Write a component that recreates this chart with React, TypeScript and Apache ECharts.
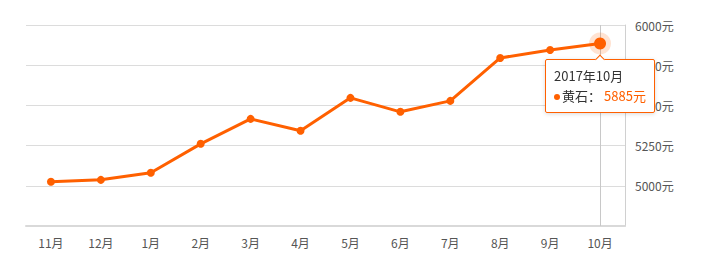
import React, { useEffect, useRef } from "react";
import * as echarts from "echarts";

const categories = ["11月", "12月", "1月", "2月", "3月", "4月", "5月", "6月", "7月", "8月", "9月", "10月"];
const periods = ["2016年11月", "2016年12月", "2017年1月", "2017年2月", "2017年3月", "2017年4月", "2017年5月", "2017年6月", "2017年7月", "2017年8月", "2017年9月", "2017年10月"];
const prices = [5025, 5037, 5081, 5261, 5416, 5342, 5547, 5460, 5528, 5795, 5845, 5885];
const seriesName = "黄石";
const unit = "元";

const ORANGE = "#ff6000";

export default function App() {
  const ref = useRef<HTMLDivElement>(null);
  useEffect(() => {
    document.body.style.margin = "0";
    const chart = echarts.init(ref.current!, null, { renderer: "svg" });
    const last = prices.length - 1;
    chart.setOption({
      animation: false,
      textStyle: { fontFamily: "'Noto Sans CJK SC', 'Noto Sans', sans-serif" },
      grid: { left: 26, right: 78, top: 25, bottom: 45 },
      tooltip: {
        trigger: "item",
        triggerOn: "none",
        alwaysShowContent: true,
        position: "bottom",
        backgroundColor: "#fff",
        borderColor: ORANGE,
        borderWidth: 1,
        padding: [6, 8],
        extraCssText: "box-shadow: 0 1px 4px rgba(0,0,0,0.15); border-radius:2px;",
        formatter: (p: any) =>
          `<div style="font-size:13px;color:#333;line-height:20px;font-family:'Noto Sans CJK SC',sans-serif">` +
          `${periods[p.dataIndex]}<br/>` +
          `<span style="display:inline-block;width:6px;height:6px;border-radius:3px;background:${ORANGE};margin-right:2px;vertical-align:middle"></span>` +
          `${p.seriesName}：<span style="color:${ORANGE};margin-left:3px">${p.value}${unit}</span></div>`,
      },
      xAxis: {
        type: "category",
        data: categories,
        boundaryGap: true,
        axisLine: { lineStyle: { color: "#d9d9d9", width: 2 } },
        axisTick: { alignWithLabel: true, length: 5, lineStyle: { color: "#ccc" } },
        axisLabel: { color: "#555", fontSize: 12, margin: 10 },
        splitLine: { show: false },
      },
      yAxis: {
        type: "value",
        position: "right",
        min: 4750,
        max: 6000,
        interval: 250,
        axisLine: { show: true, lineStyle: { color: "#d0d0d0" } },
        axisTick: { show: false },
        axisLabel: {
          color: "#555",
          fontSize: 12,
          margin: 10,
          showMinLabel: false,
          formatter: (v: number) => `${v}${unit}`,
        },
        splitLine: { lineStyle: { color: "#dcdcdc" } },
      },
      series: [
        {
          name: "halo",
          type: "scatter",
          silent: true,
          tooltip: { show: false },
          data: [[categories[last], prices[last]]],
          symbol: "circle",
          symbolSize: 22,
          itemStyle: { color: "rgba(255,96,0,0.22)" },
          z: 2,
        },
        {
          name: seriesName,
          type: "line",
          data: prices.map((v, i) => (i === last ? { value: v, symbolSize: 12 } : v)),
          symbol: "circle",
          symbolSize: 8,
          showAllSymbol: true,
          lineStyle: { color: ORANGE, width: 3 },
          itemStyle: { color: ORANGE },
          markLine: {
            silent: true,
            symbol: "none",
            label: { show: false },
            lineStyle: { color: "#c8c8c8", type: "solid", width: 1 },
            data: [{ xAxis: categories[last] }],
            z: 1,
          },
          z: 3,
        },
      ],
    });
    const show = () => chart.dispatchAction({ type: "showTip", seriesIndex: 1, dataIndex: last });
    show();
    const t = setTimeout(show, 50);
    return () => {
      clearTimeout(t);
      chart.dispose();
    };
  }, []);
  return <div ref={ref} style={{ width: 703, height: 271 }} />;
}
